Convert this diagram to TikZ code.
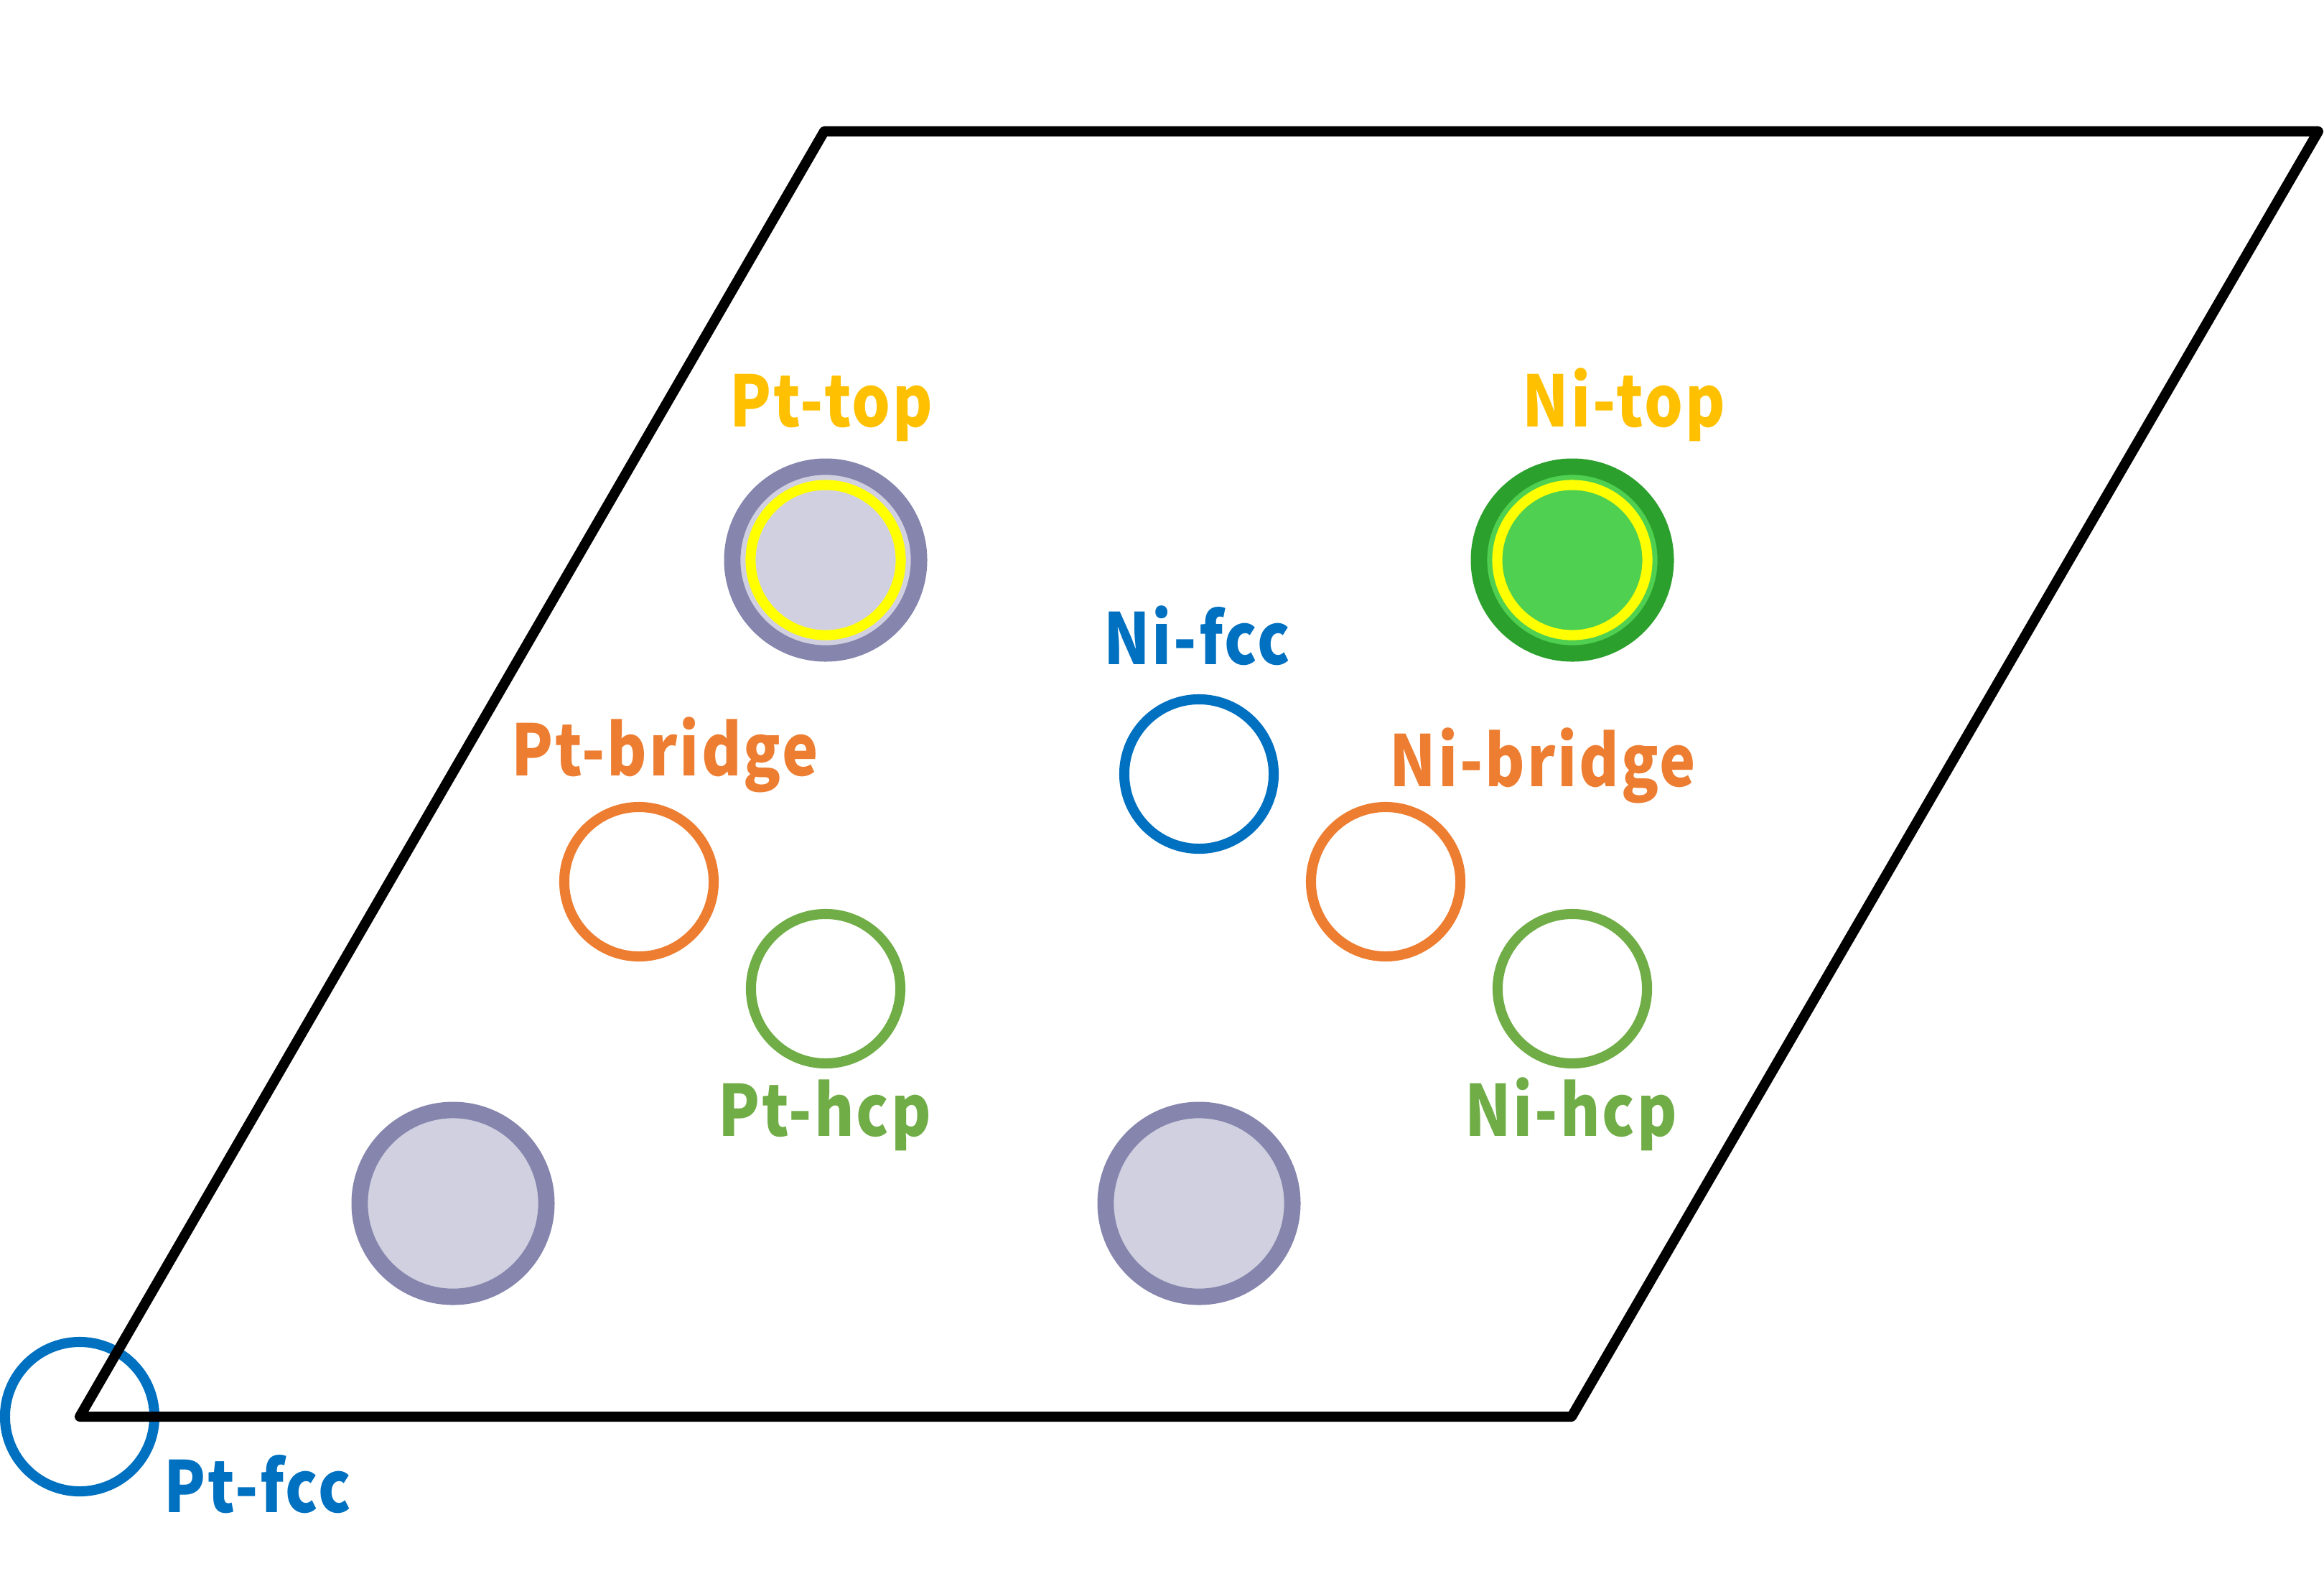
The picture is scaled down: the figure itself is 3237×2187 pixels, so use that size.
\documentclass[tikz,border=0pt]{standalone}
\usepackage{fontspec}
\setmainfont{Noto Sans CJK JP}[FakeStretch=0.86,LetterSpace=3]
\definecolor{ptedge}{HTML}{8585AD}
\definecolor{ptfill}{HTML}{D0D0E1}
\definecolor{niedge}{HTML}{2CA02D}
\definecolor{nifill}{HTML}{50D050}
\definecolor{ringyellow}{HTML}{FFFF00}
\definecolor{siteblue}{HTML}{0070C0}
\definecolor{siteorange}{HTML}{ED7D31}
\definecolor{sitegreen}{HTML}{70AD47}
\definecolor{topgold}{HTML}{FFC000}

\def\scale{0.01}
\tikzstyle{atom}=[circle,draw=ptedge,fill=ptfill,line width=6.5pt,minimum size=2.6cm,inner sep=0pt]
\tikzstyle{topring}=[circle,draw=ringyellow,line width=4pt,minimum size=2.09cm,inner sep=0pt]
\tikzstyle{site}=[circle,line width=4pt,minimum size=2.08cm,inner sep=0pt]
\tikzstyle{lbl}=[font=\fontsize{28}{30}\selectfont\bfseries,inner sep=0pt,anchor=base]

\begin{document}
\begin{tikzpicture}[x=\scale cm,y=-\scale cm]
       \useasboundingbox (0,0) rectangle (3237,2187);
       % adsorption sites
       \foreach \pos/\name/\col in {{(111,1973)/ptfcc/siteblue}, {(1670,1078)/nifcc/siteblue}, {(890,1228)/ptbridge/siteorange}, {(1930,1228)/nibridge/siteorange}, {(1150,1377)/pthcp/sitegreen}, {(2190,1377)/nihcp/sitegreen}} {
           \node[site,draw=\col] (\name) at \pos {};
       }
       \draw[line width=4pt,line join=round] (111,1973) -- (2189,1973) -- (3229,183) -- (1148,183) -- cycle;
       % surface atoms
       \foreach \pos/\name in {{(631,1676)/pta}, {(1670,1676)/ptb}, {(1150,780)/ptc}} {
           \node[atom] (\name) at \pos {};
       }
       \node[atom,draw=niedge,fill=nifill] (nia) at (2190,780) {};
       \node[topring] (pttop) at (ptc) {};
       \node[topring] (nitop) at (nia) {};
       % labels
       \foreach \pos/\name/\col/\txt in {{(1158,594)/lpttop/topgold/Pt-top}, {(2262,594)/lnitop/topgold/Ni-top}, {(1667,925)/lnifcc/siteblue/Ni-fcc}, {(926,1080)/lptbridge/siteorange/Pt-bridge}, {(2149,1095)/lnibridge/siteorange/Ni-bridge}, {(1149,1582)/lpthcp/sitegreen/Pt-hcp}, {(2188,1582)/lnihcp/sitegreen/Ni-hcp}, {(359,2106)/lptfcc/siteblue/Pt-fcc}} {
           \node[lbl,text=\col] (\name) at \pos {\txt};
       }
\end{tikzpicture}
\end{document}
